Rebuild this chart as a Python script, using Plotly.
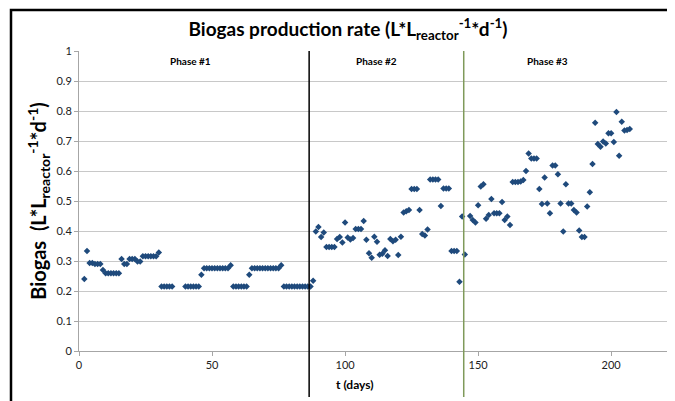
import plotly.graph_objects as go

# ---- data ----
days = [2, 3, 4, 5, 6, 7, 8, 9,
        10, 11, 12, 13, 14, 15, 16, 17, 18, 19, 20, 21, 22, 23,
        24, 25, 26, 27, 28, 29, 30, 31, 32, 33, 34, 35,
        40, 41, 42, 43, 44, 45, 46,
        47, 48, 49, 50, 51, 52, 53, 54, 55, 56, 57,
        58, 59, 60, 61, 62, 63, 64,
        65, 66, 67, 68, 69, 70, 71, 72, 73, 74, 75, 76,
        77, 78, 79, 80, 81, 82, 83, 84, 85, 86, 87, 88,
        89, 90, 91, 92, 93, 94, 95, 96, 97, 98, 99, 100,
        101, 102, 103, 104, 105, 106, 107, 108, 109, 110,
        111, 112, 113, 114, 115, 116, 117, 118, 119, 120,
        121, 122, 123, 124, 125, 126, 127, 128, 129, 130,
        131, 132, 133, 134, 135, 136, 137, 138, 139, 140,
        141, 142, 143, 144, 145,
        147, 148, 149, 150, 151, 152, 153, 154, 155, 156,
        157, 158, 159, 160, 161, 162, 163, 164, 165, 166,
        167, 168, 169, 170, 171, 172, 173, 174, 175, 176,
        177, 178, 179, 180, 181, 182, 183, 184, 185, 186,
        187, 188, 189, 190, 191, 192, 193, 194, 195, 196,
        197, 198, 199, 200, 201, 202, 203, 204, 205, 206, 207]

biogas = [0.240, 0.333, 0.293, 0.293, 0.290, 0.290, 0.290, 0.270,
          0.259, 0.259, 0.259, 0.259, 0.259, 0.259, 0.307, 0.290, 0.290, 0.307, 0.307, 0.307, 0.298, 0.298,
          0.316, 0.316, 0.316, 0.316, 0.316, 0.316, 0.328, 0.215, 0.215, 0.215, 0.215, 0.215,
          0.215, 0.215, 0.215, 0.215, 0.215, 0.215, 0.254,
          0.276, 0.276, 0.276, 0.276, 0.276, 0.276, 0.276, 0.276, 0.276, 0.276, 0.286,
          0.215, 0.215, 0.215, 0.215, 0.215, 0.215, 0.254,
          0.276, 0.276, 0.276, 0.276, 0.276, 0.276, 0.276, 0.276, 0.276, 0.276, 0.276, 0.286,
          0.215, 0.215, 0.215, 0.215, 0.215, 0.215, 0.215, 0.215, 0.215, 0.215, 0.215, 0.234,
          0.398, 0.413, 0.380, 0.395, 0.347, 0.347, 0.347, 0.347, 0.373, 0.380, 0.362, 0.428,
          0.378, 0.372, 0.377, 0.407, 0.407, 0.407, 0.433, 0.371, 0.326, 0.311,
          0.381, 0.364, 0.321, 0.324, 0.336, 0.317, 0.373, 0.366, 0.371, 0.320,
          0.381, 0.462, 0.466, 0.470, 0.540, 0.540, 0.540, 0.470, 0.390, 0.385,
          0.405, 0.572, 0.572, 0.572, 0.572, 0.483, 0.542, 0.542, 0.542, 0.333,
          0.333, 0.333, 0.231, 0.448, 0.322,
          0.450, 0.437, 0.428, 0.486, 0.548, 0.556, 0.441, 0.453, 0.507, 0.459,
          0.459, 0.459, 0.497, 0.437, 0.448, 0.420, 0.563, 0.563, 0.563, 0.565,
          0.570, 0.600, 0.658, 0.642, 0.642, 0.642, 0.540, 0.490, 0.578, 0.492,
          0.459, 0.618, 0.618, 0.589, 0.492, 0.398, 0.556, 0.492, 0.492, 0.470,
          0.462, 0.402, 0.380, 0.380, 0.482, 0.529, 0.623, 0.761, 0.690, 0.681,
          0.698, 0.692, 0.726, 0.726, 0.697, 0.797, 0.651, 0.764, 0.735, 0.737, 0.740]

phase_names = ["Phase #1", "Phase #2", "Phase #3"]
phase_label_x = [42, 112, 176]
phase_bounds = [86.5, 144.6]
phase_colors = ["#000000", "#7f9a5a"]

x_ticks = [0, 50, 100, 150, 200]
y_ticks = [0, 0.1, 0.2, 0.3, 0.4, 0.5, 0.6, 0.7, 0.8, 0.9, 1]
y_tick_text = ["0", "0.1", "0.2", "0.3", "0.4", "0.5", "0.6", "0.7", "0.8", "0.9", "1"]

FONT = "Lato"

# page offset (browser body margin) compensation
OFF = 8
W, H = 675 - OFF, 401 - OFF
L, T = 79 - OFF, 51 - OFF
R = W - (667 - OFF)
B = H - (351 - OFF)
pw, ph = W - L - R, H - T - B

def px_to_paper_x(px):
    return (px - OFF - L) / pw

def py_to_paper_y(py):
    return (H - B - (py - OFF)) / ph

fig = go.Figure()
fig.add_trace(go.Scatter(
    x=days, y=biogas, mode="markers",
    marker=dict(symbol="diamond", size=5, color="#1f4a7c"),
    showlegend=False, cliponaxis=False,
))

for xb, col in zip(phase_bounds, phase_colors):
    fig.add_shape(type="line", xref="x", yref="paper", x0=xb, x1=xb,
                  y0=py_to_paper_y(397), y1=1, line=dict(color=col, width=1.5))

for name, xl in zip(phase_names, phase_label_x):
    fig.add_annotation(x=xl, y=0.966, xref="x", yref="y", text="<b>" + name + "</b>",
                       showarrow=False, font=dict(family=FONT, size=10, color="#000000"))

# x axis title (placed like the reference, slightly left of centre)
fig.add_annotation(x=px_to_paper_x(355), y=py_to_paper_y(384), xref="paper", yref="paper",
                   xanchor="center", yanchor="middle",
                   text="<b>t (days)</b>", showarrow=False,
                   font=dict(family=FONT, size=12, color="#000000"))

# outer frame
fig.add_shape(type="rect", xref="paper", yref="paper",
              x0=px_to_paper_x(11), x1=px_to_paper_x(673),
              y0=py_to_paper_y(410), y1=py_to_paper_y(10),
              line=dict(color="#000000", width=2.5), fillcolor="rgba(0,0,0,0)", layer="above")

fig.update_layout(
    width=W, height=H,
    margin=dict(l=L, r=R, t=T, b=B, autoexpand=False),
    paper_bgcolor="white", plot_bgcolor="white",
    font=dict(family=FONT, color="#222222"),
    title=dict(text="<b>Biogas production rate (L*L<sub>reactor</sub><sup>-1</sup>*d<sup>-1</sup>)</b>",
               x=px_to_paper_x(348), xref="paper", xanchor="center",
               y=1 - (29 - OFF) / H, yanchor="middle",
               font=dict(family=FONT, size=19, color="#000000")),
    xaxis=dict(range=[0, 221], tickvals=x_ticks, ticktext=[str(v) for v in x_ticks],
               automargin=False,
               showgrid=False, zeroline=False, showline=True, linecolor="#a6a6a6", linewidth=1,
               ticks="outside", ticklen=4, tickcolor="#a6a6a6",
               tickfont=dict(family=FONT, size=11, color="#222222")),
    yaxis=dict(range=[0, 1], tickvals=y_ticks, ticktext=y_tick_text,
               automargin=False,
               showgrid=True, gridcolor="#c8c8c8", gridwidth=1, zeroline=False,
               showline=True, linecolor="#a6a6a6", linewidth=1,
               ticks="outside", ticklen=4, tickcolor="#a6a6a6",
               tickfont=dict(family=FONT, size=11, color="#222222"),
               title=dict(text="<b>Biogas  (L*L<sub>reactor</sub><sup>-1</sup>*d<sup>-1</sup>)</b>",
                          font=dict(family=FONT, size=20, color="#000000"), standoff=4)),
)

fig.write_html("out.html")
